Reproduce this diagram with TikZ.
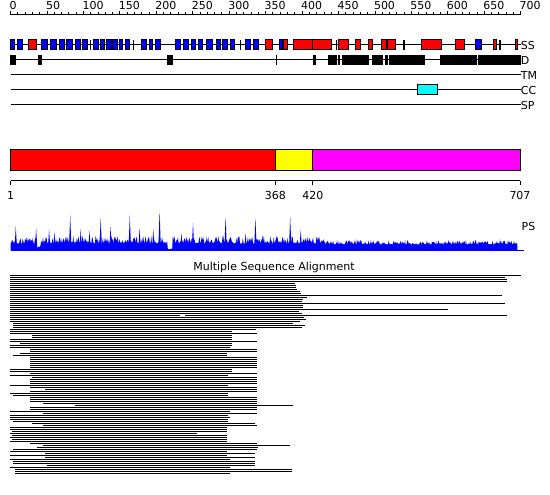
\documentclass[tikz,border=0pt]{standalone}
\usepackage{fontspec}
\setmainfont{DejaVu Sans}
\usepackage{xcolor}
\usepackage{tikz}
\definecolor{helixred}{RGB}{255,0,0}
\definecolor{strandblue}{RGB}{0,0,255}
\definecolor{cccyan}{RGB}{0,255,255}
\definecolor{domyellow}{RGB}{255,255,0}
\definecolor{dommagenta}{RGB}{255,0,255}
\newcommand{\plotfont}{\fontsize{11}{13}\selectfont}
\tikzset{
  trackline/.style={line width=1pt},
  featbox/.style={draw, line width=1pt},
  helixbox/.style={featbox, fill=helixred},
  strandbox/.style={featbox, fill=strandblue},
  disobox/.style={fill=black},
  ccbox/.style={featbox, fill=cccyan},
  thinbar/.style={line width=1.2pt},
  domainbox/.style={draw, line width=1pt},
  tracklabel/.style={anchor=west, inner sep=0pt, font=\plotfont},
  rulerlabel/.style={anchor=base west, inner sep=0pt, font=\plotfont},
  axislabel/.style={anchor=base, inner sep=0pt, font=\plotfont},
  psfill/.style={fill=strandblue},
  msaline/.style={line width=1.3pt},
}

\begin{document}
\begin{tikzpicture}[x=1pt, y=-1pt]
  \fill[white] (0,0) rectangle (550,495);
  \useasboundingbox (0,0) rectangle (550,495);

  % Ruler
  \draw[trackline] (10.7,15) -- (520.7,15);
  \foreach \v in {0,10,...,700}
    \draw[trackline] ({10.7+0.7286*\v},15) -- ++(0,-2.5);
  \foreach \v in {0,50,...,700} {
    \draw[trackline] ({10.7+0.7286*\v},15) -- ++(0,-4);
    \node[rulerlabel] (rl\v) at ({9.5+0.7286*\v},10) {\v};
  }

  % Feature tracks
  \foreach \y/\t [count=\k] in {45/SS, 60/D, 75/TM, 90/CC, 105/SP} {
    \draw[trackline] (10.7,\y) -- (520.7,\y);
    \node[tracklabel] (track\k) at (520.7,\y) {\t};
  }

  % Secondary structure
  \foreach \a/\b in {10.7/14, 17/22, 41.7/47.3, 50.7/56.7, 59.3/64.7, 66.7/72, 75/80,
      82.7/87.3, 93/98, 100/104.7, 106/111, 112.7/117.3, 119.3/122, 125.3/129.3,
      141.7/146.7, 149.3/152.7, 155.3/160.7, 175.3/180.7, 183.3/188, 191.3/195.3,
      198.7/202.7, 206.7/212, 216/220, 222.7/227.3, 230/234.7, 245.3/250, 253.3/258,
      279.3/282, 475/481.7}
    \filldraw[strandbox] (\a,40) rectangle (\b,50);
  \foreach \a/\b in {28.7/36, 265.3/272.7, 283.3/287.3, 293.3/312, 312/331.7,
      338.7/348.3, 355.5/360, 368.3/372.7, 381/386, 387.3/395, 421.7/441.7,
      455.3/464, 493.3/496.7, 515.5/517.3}
    \filldraw[helixbox] (\a,40) rectangle (\b,50);
  \foreach \a in {90.7, 133.3, 240.7, 336.7, 404, 500}
    \draw[thinbar] (\a,40) -- (\a,50);

  % Disorder
  \foreach \a/\b in {10/15.7, 38/41.7, 166.7/172.7, 313.3/316, 328.3/336.7, 338/340,
      341.7/369, 372/383.3, 384.7/388.3, 389.3/425, 440/476.7, 478.3/520.7}
    \fill[disobox] (\a,55) rectangle (\b,65);
  \draw[thinbar] (276.7,55) -- (276.7,65);

  % Coiled coil
  \filldraw[ccbox] (417.3,85) rectangle (437.3,95);

  % Domain bar
  \filldraw[domainbox, fill=helixred] (10.5,150) rectangle (275.4,170.7);
  \filldraw[domainbox, fill=domyellow] (275.4,150) rectangle (312.9,170.7);
  \filldraw[domainbox, fill=dommagenta] (312.9,150) rectangle (520,170.7);
  \draw[trackline] (10.5,180.7) -- (520,180.7);
  \foreach \p/\x in {1/10.5, 368/275.4, 420/312.9, 707/520} {
    \draw[trackline] (\x,180.7) -- (\x,185);
    \node[axislabel] (dl\p) at (\x,199.5) {\p};
  }

  % Prediction score
  \pgfmathsetseed{11}
  \fill[psfill] (10.5,250) \foreach \i in {0,...,702} {
      -- ({10.5+0.7217*\i},{250-(and(\i>=218,\i<=224) ? 0.6+rnd : (and(\i>=37,\i<=41) ? 2+2*rnd : (\i<437 ? 6.5+8*pow(rnd,2) : 5.5+4.5*pow(rnd,2))))})
    } -- (517.5,250) -- cycle;
  \foreach \px/\py in {15.8/226, 36.1/228, 49.1/229, 54.4/232, 70.2/215, 80.7/229,
      89.5/231, 100.7/218, 110.5/227, 129.8/215, 139.6/228, 153.3/229, 159.6/211,
      181.4/233, 193/222.7, 203.5/237, 225.6/217, 245.6/233, 255.4/218, 273.7/237,
      290.2/216.7, 300.7/230, 313/238, 337/240, 356/239, 371/240, 405/240, 436/241,
      466/240, 500/239, 508/240}
    \fill[psfill] (\px-1.3,250) -- (\px,\py) -- (\px+1.3,250) -- cycle;
  \draw[strandblue, line width=1pt] (10.5,250) -- (523.5,250);
  \node[rulerlabel] (ps) at (521.5,230) {PS};

  % Multiple sequence alignment
  \node[axislabel] (msa) at (274,270) {Multiple Sequence Alignment};
  \foreach \a/\b [count=\k from 0] in {10/520.7, 10/505, 10/506.7, 10/506.7, 10/295,
      10/296, 10/296, 10/297.3, 10/300, 10/300.7, 10/501.7, 10/306.7, 10/302.7,
      10/301.7, 10/505, 10/302.7, 10/302.7, 10/448.3, 10/299.3, 10/301.7, 185/506.7,
      10/304, 10/306, 10/300, 13/293.3, 13/305, 13/301.7, 10/256, 10/231.7,
      10/256.7, 31.7/231.7, 31.7/231.7, 10/231.7, 10/256.7, 20/231.7, 10/231.7,
      10/230, 30/256.7, 30/256.7, 20/226.7, 13.3/226.7, 30/256.7, 30/256.7,
      30/256.7, 30/256.7, 30/256.7, 30/256.7, 10/231.7,
      10/231.7, 30/256.7, 10/228.3, 31.7/256.7, 30/256.7, 30/256.7, 30/256.7,
      10/228.3, 30/256.7, 45/256.7, 30/256.7, 10/228.3, 13.3/228.3, 30/256.7,
      30/256.7, 30/256.7, 43.3/256.7, 75/292.7, 30/256.7, 30/256.7, 10/230,
      43.3/256.7, 10/228.3, 10/230, 10/228.3, 13.3/228.3, 31.7/255, 43.3/256.7,
      10/226.7, 10/226.7, 11.7/226.7, 10/196.7, 11.7/226.7, 10/226.7, 11.7/226.7,
      10/226.7, 30/256.7, 43.3/290, 36.7/258.3, 13.3/256.7, 10/226.7, 45/255,
      10/226.7, 45/255, 10/230, 13.3/255, 13.3/255, 46.7/255, 10/230, 15/291.7,
      15/291.7, 15/230}
    \draw[msaline] (\a,{275.7+2*\k}) -- (\b,{275.7+2*\k});
  \draw[msaline] (10,315.7) -- (180,315.7);
\end{tikzpicture}
\end{document}
